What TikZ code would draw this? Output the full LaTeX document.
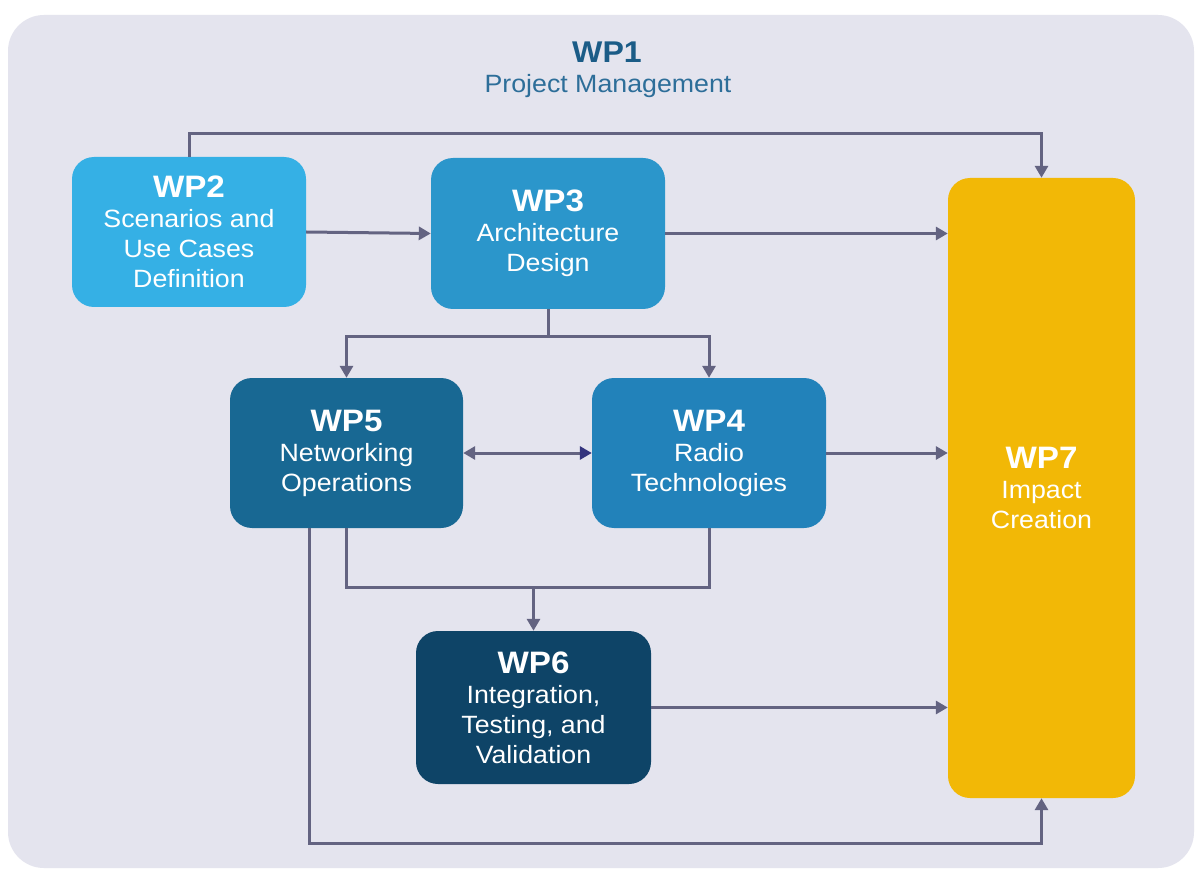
\documentclass[tikz,border=0pt]{standalone}
\usepackage{fontspec}
\setmainfont{Liberation Sans}[FakeStretch=1.07]
\usetikzlibrary{arrows.meta}

\definecolor{panel}{HTML}{E4E4EE}
\definecolor{linkc}{HTML}{636381}
\definecolor{tipnavy}{HTML}{34347E}
\definecolor{titlec}{HTML}{1B5C87}
\definecolor{subc}{HTML}{2D6E99}
\definecolor{cwpa}{HTML}{35B0E5}
\definecolor{cwpb}{HTML}{2B96CB}
\definecolor{cwpc}{HTML}{2282BA}
\definecolor{cwpd}{HTML}{186893}
\definecolor{cwpe}{HTML}{0E4467}
\definecolor{cwpf}{HTML}{F2B806}

\newcommand\wptitle[1]{{\fontsize{31}{33}\selectfont\bfseries #1}}

\begin{document}
\begin{tikzpicture}[x=1pt,y=-1pt,
  wpbox/.style={draw=none, rounded corners=22pt, text=white, align=center,
    font=\fontsize{25}{30}\selectfont, inner sep=0pt},
  link/.style={draw=linkc, line width=3pt, -{Triangle[length=12pt,width=13pt]}},
  plain/.style={draw=linkc, line width=3pt},
]
\useasboundingbox (0,0) rectangle (1195,869);
\fill[white] (0,0) rectangle (1195,869);
\fill[panel, rounded corners=36pt] (8,15) rectangle (1194,868);

% programme management header
\node[font=\fontsize{30}{32}\selectfont\bfseries, text=titlec] (wp1) at (607,52) {WP1};
\node[font=\fontsize{25}{28}\selectfont, text=subc] (pm) at (608,86) {Project Management};

% work packages
\node[wpbox, fill=cwpa, minimum width=234pt, minimum height=150pt] (wp2) at (189,232)
  {\wptitle{WP2}\\Scenarios and\\Use Cases\\Definition};
\node[wpbox, fill=cwpb, minimum width=234pt, minimum height=151pt] (wp3) at (548,233.5)
  {\wptitle{WP3}\\Architecture\\Design};
\node[wpbox, fill=cwpd, minimum width=233pt, minimum height=150pt] (wp5) at (346.5,453)
  {\wptitle{WP5}\\Networking\\Operations};
\node[wpbox, fill=cwpc, minimum width=234pt, minimum height=150pt] (wp4) at (709,453)
  {\wptitle{WP4}\\Radio\\Technologies};
\node[wpbox, fill=cwpe, minimum width=235pt, minimum height=153pt] (wp6) at (533.5,707.5)
  {\wptitle{WP6}\\Integration,\\Testing, and\\Validation};
\node[wpbox, fill=cwpf, minimum width=187pt, minimum height=620pt] (wp7) at (1041.5,488)
  {\wptitle{WP7}\\Impact\\Creation};

% connectors
\draw[link] (wp2.north) -- ++(0,-23) -| (wp7.north);
\draw[link] (wp2.east) -- (wp3.west);
\draw[link] (wp3.east) -- (wp3.east -| wp7.west);

\draw[plain] (wp3.south) -- ++(0,27) coordinate (split3);
\draw[link] (split3) -| (wp5.north);
\draw[link] (split3) -| (wp4.north);

\draw[draw=linkc, line width=3pt,
  {Triangle[length=12pt,width=13pt]}-{Triangle[length=12pt,width=13pt,color=tipnavy]}]
  (wp5.east) -- (wp4.west);
\draw[link] (wp4.east) -- (wp4.east -| wp7.west);

\draw[plain] (wp5.south) -- ++(0,59) coordinate (join56) -| (wp4.south);
\draw[link] (join56 -| wp6.north) -- (wp6.north);
\draw[link] (wp6.east) -- (wp6.east -| wp7.west);

\draw[link] ([xshift=-37pt]wp5.south) -- ++(0,315) -| (wp7.south);
\end{tikzpicture}
\end{document}
